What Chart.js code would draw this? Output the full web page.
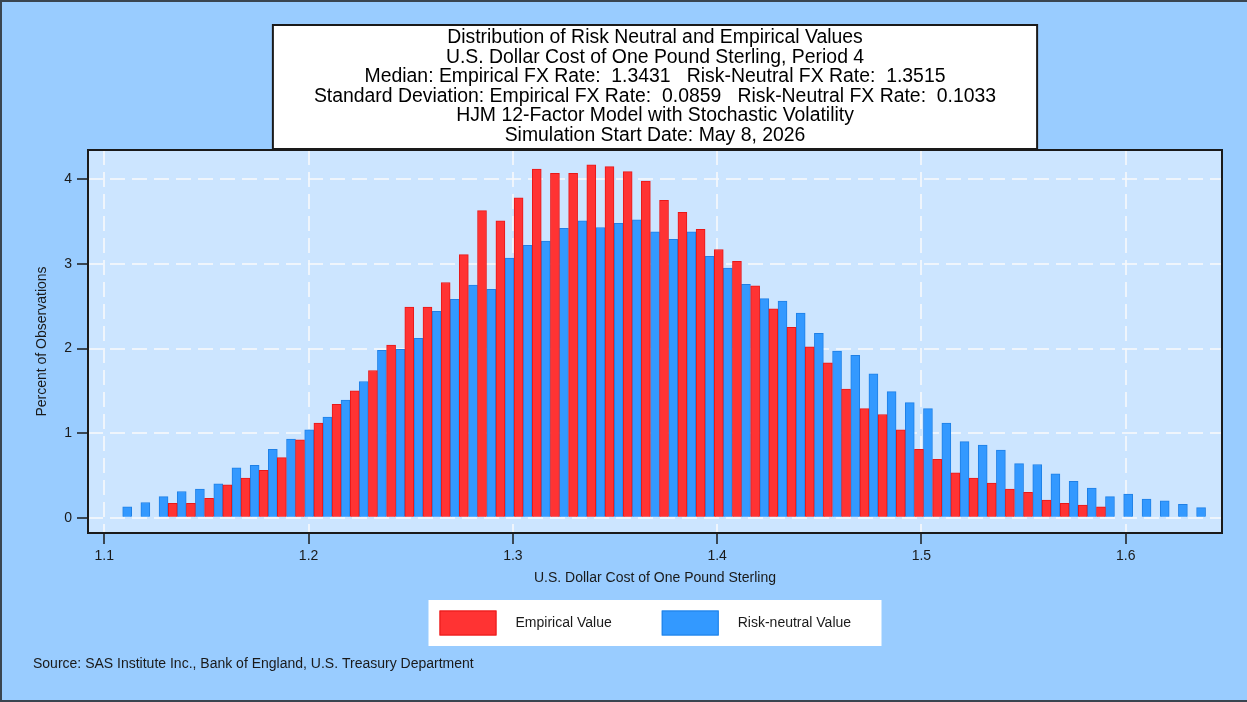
<!DOCTYPE html>
<html>
<head>
<meta charset="utf-8">
<script src="https://cdn.jsdelivr.net/npm/chart.js@4/dist/chart.umd.min.js"></script>
<style>
html,body{margin:0;padding:0;background:#99ccff;}
canvas{display:block;}
</style>
</head>
<body>
<canvas id="c" width="1247" height="702"></canvas>
<script>
// ---------- data ----------
const titleLines = [
  'Distribution of Risk Neutral and Empirical Values',
  'U.S. Dollar Cost of One Pound Sterling, Period 4',
  'Median: Empirical FX Rate:  1.3431   Risk-Neutral FX Rate:  1.3515',
  'Standard Deviation: Empirical FX Rate:  0.0859   Risk-Neutral FX Rate:  0.1033',
  'HJM 12-Factor Model with Stochastic Volatility',
  'Simulation Start Date: May 8, 2026'
];
const xAxisTitle = 'U.S. Dollar Cost of One Pound Sterling';
const yAxisTitle = 'Percent of Observations';
const sourceNote = 'Source: SAS Institute Inc., Bank of England, U.S. Treasury Department';
const seriesLabels = ['Empirical Value', 'Risk-neutral Value'];
const xTicks = [1.1, 1.2, 1.3, 1.4, 1.5, 1.6];
const yTicks = [0, 1, 2, 3, 4];

const empiricalBins = [1.1335,1.1424,1.1513,1.1602,1.1691,1.1780,1.1869,1.1958,
  1.2048,1.2137,1.2226,1.2315,1.2404,1.2493,1.2582,1.2671,1.2760,1.2849,
  1.2939,1.3028,1.3117,1.3206,1.3295,1.3384,1.3473,1.3562,1.3651,1.3740,
  1.3830,1.3919,1.4008,1.4097,1.4186,1.4275,1.4364,1.4453,1.4542,1.4631,
  1.4721,1.4810,1.4899,1.4988,1.5077,1.5166,1.5255,1.5344,1.5433,1.5522,
  1.5612,1.5701,1.5790,1.5879];
const empiricalPct = [0.17,0.17,0.23,0.39,0.47,0.56,0.71,0.92,
  1.12,1.34,1.50,1.74,2.04,2.49,2.49,2.78,3.11,3.63,
  3.51,3.78,4.12,4.07,4.07,4.17,4.15,4.09,3.98,3.75,
  3.61,3.41,3.17,3.03,2.74,2.47,2.25,2.02,1.83,1.52,
  1.29,1.22,1.04,0.81,0.69,0.53,0.47,0.41,0.34,0.30,
  0.21,0.17,0.15,0.13];

const riskNeutralBins = [1.1112,1.1201,1.1290,1.1379,1.1468,1.1558,1.1647,1.1736,1.1825,1.1914,
  1.2003,1.2092,1.2181,1.2270,1.2359,1.2449,1.2538,1.2627,1.2716,1.2805,
  1.2894,1.2983,1.3072,1.3161,1.3250,1.3340,1.3429,1.3518,1.3607,1.3696,
  1.3785,1.3874,1.3963,1.4052,1.4141,1.4231,1.4320,1.4409,1.4498,1.4587,
  1.4676,1.4765,1.4854,1.4943,1.5032,1.5122,1.5211,1.5300,1.5389,1.5478,
  1.5567,1.5656,1.5745,1.5834,1.5923,1.6012,1.6102,1.6191,1.6280,1.6369];
const riskNeutralPct = [0.13,0.18,0.25,0.31,0.34,0.40,0.59,0.62,0.81,0.93,
  1.04,1.19,1.39,1.61,1.98,1.99,2.12,2.44,2.58,2.75,
  2.70,3.07,3.22,3.27,3.42,3.51,3.43,3.48,3.52,3.38,
  3.29,3.38,3.09,2.95,2.76,2.59,2.56,2.42,2.18,1.97,
  1.92,1.70,1.49,1.36,1.29,1.12,0.90,0.86,0.80,0.64,
  0.63,0.52,0.43,0.35,0.25,0.28,0.22,0.20,0.16,0.12];

// ---------- styles ----------
const FONT = '"Liberation Sans", Arial, Helvetica, sans-serif';
const OUTER_BG = '#99ccff';
const PLOT_BG = '#cce5ff';
const RED = '#ff3333', RED_EDGE = '#e81818';
const BLUE = '#3399ff', BLUE_EDGE = '#1f80e6';
const TEXT = '#1a1a1a';

const decorPlugin = {
  id: 'decor',
  beforeDraw(chart) {
    const {ctx, width, height, chartArea: a} = chart;
    ctx.save();
    ctx.fillStyle = OUTER_BG;
    ctx.fillRect(0, 0, width, height);
    // outer frame
    ctx.strokeStyle = '#3a4550';
    ctx.lineWidth = 2;
    ctx.beginPath();
    ctx.moveTo(width, 1); ctx.lineTo(1, 1); ctx.lineTo(1, height - 1); ctx.lineTo(width, height - 1);
    ctx.stroke();
    // plot background
    ctx.fillStyle = PLOT_BG;
    ctx.fillRect(a.left, a.top, a.right - a.left, a.bottom - a.top);
    // title box
    const tb = chart.titleBlock;
    ctx.font = '19.4px ' + FONT;
    let maxW = 0;
    titleLines.forEach(t => { maxW = Math.max(maxW, ctx.measureText(t).width); });
    const cx = (a.left + a.right) / 2;
    const half = maxW / 2 + 41;
    const top = tb.top + 25;
    ctx.fillStyle = '#ffffff';
    ctx.fillRect(cx - half, top, half * 2, a.top - top);
    ctx.strokeStyle = '#1a1a1a';
    ctx.lineWidth = 2;
    ctx.strokeRect(cx - half, top, half * 2, a.top - top - 1);
    ctx.restore();
  },
  afterDatasetsDraw(chart) {
    const {ctx, chartArea: a} = chart;
    ctx.save();
    ctx.strokeStyle = '#1a1a1a';
    ctx.lineWidth = 2;
    ctx.strokeRect(a.left, a.top, a.right - a.left, a.bottom - a.top);
    ctx.restore();
  },
  afterDraw(chart) {
    const {ctx, chartArea: a} = chart;
    ctx.save();
    // legend box
    const cx = (a.left + a.right) / 2;
    const boxL = cx - 226.5, boxT = a.bottom + 67, boxW = 453, boxH = 46;
    ctx.fillStyle = '#ffffff';
    ctx.fillRect(boxL, boxT, boxW, boxH);
    ctx.font = '14px ' + FONT;
    ctx.textBaseline = 'middle';
    ctx.textAlign = 'left';
    let x = boxL + 11;
    const midY = boxT + boxH / 2;
    chart.data.datasets.forEach((ds, i) => {
      ctx.fillStyle = ds.backgroundColor;
      ctx.fillRect(x, midY - 12.5, 57, 25);
      ctx.strokeStyle = ds.borderColor;
      ctx.lineWidth = 1;
      ctx.strokeRect(x + 0.5, midY - 12, 56, 24);
      ctx.fillStyle = TEXT;
      ctx.fillText(ds.label, x + 57 + 19, midY);
      x += 57 + 19 + ctx.measureText(ds.label).width + 50;
    });
    // source note
    ctx.fillStyle = TEXT;
    ctx.font = '14px ' + FONT;
    ctx.fillText(sourceNote, 33, a.bottom + 131);
    ctx.restore();
  }
};

new Chart(document.getElementById('c'), {
  type: 'bar',
  data: {
    datasets: [
      {
        label: seriesLabels[0],
        data: empiricalBins.map((b, i) => ({x: b, y: empiricalPct[i]})),
        backgroundColor: RED,
        borderColor: RED_EDGE,
        borderWidth: 1,
        grouped: false,
        barPercentage: 1,
        categoryPercentage: 1
      },
      {
        label: seriesLabels[1],
        data: riskNeutralBins.map((b, i) => ({x: b, y: riskNeutralPct[i]})),
        backgroundColor: BLUE,
        borderColor: BLUE_EDGE,
        borderWidth: 1,
        grouped: false,
        barPercentage: 1,
        categoryPercentage: 1
      }
    ]
  },
  options: {
    responsive: false,
    animation: false,
    devicePixelRatio: 1,
    layout: {padding: {left: 0, right: 25, top: 0, bottom: 115.6}},
    plugins: {
      legend: {display: false},
      tooltip: {enabled: false},
      title: {
        display: true,
        fullSize: false,
        text: titleLines,
        color: '#000',
        font: {family: FONT, size: 19.4, weight: 'normal', lineHeight: '19.5px'},
        padding: {top: 28.25, bottom: 4.75}
      }
    },
    scales: {
      x: {
        type: 'linear',
        min: 1.09202,
        max: 1.64714,
        offset: false,
        afterBuildTicks: s => { s.ticks = xTicks.map(v => ({value: v})); },
        afterFit: s => { s.height = 53.4; },
        ticks: {
          color: TEXT, font: {family: FONT, size: 14}, padding: 4,
          autoSkip: false, maxRotation: 0,
          callback: v => Number(v).toFixed(1)
        },
        grid: {
          offset: false, color: 'rgba(245,248,252,0.85)', lineWidth: 2,
          tickLength: 11, tickColor: '#1a1a1a', tickWidth: 1.5
        },
        border: {display: false, dash: [15, 7]},
        title: {display: true, text: xAxisTitle, color: TEXT, font: {family: FONT, size: 14}, padding: {top: 0, bottom: 0}}
      },
      y: {
        type: 'linear',
        min: -0.18,
        max: 4.346,
        afterBuildTicks: s => { s.ticks = yTicks.map(v => ({value: v})); },
        afterFit: s => { s.width = 88; },
        ticks: {color: TEXT, font: {family: FONT, size: 14}, padding: 5, callback: v => String(v)},
        grid: {
          color: 'rgba(245,248,252,0.85)', lineWidth: 2,
          tickLength: 11, tickColor: '#1a1a1a', tickWidth: 1.5
        },
        border: {display: false, dash: [15, 7]},
        title: {display: true, text: yAxisTitle, color: TEXT, font: {family: FONT, size: 14}, padding: {top: 33.6, bottom: 0}}
      }
    }
  },
  plugins: [decorPlugin]
});
</script>
</body>
</html>
